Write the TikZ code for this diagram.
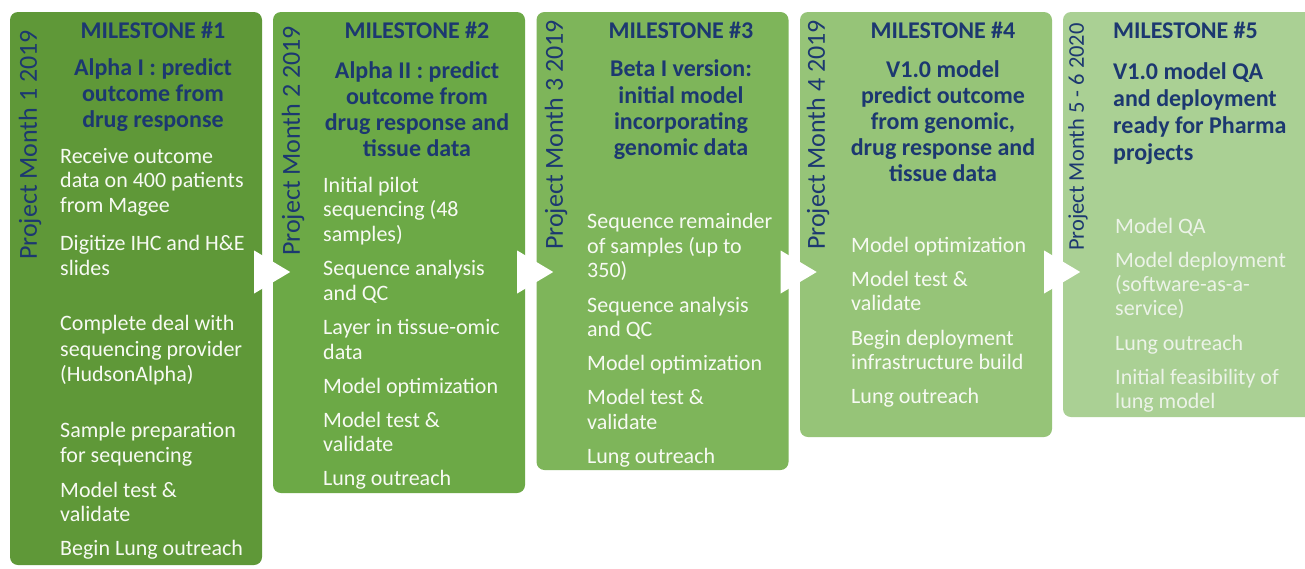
\documentclass[tikz,border=0pt]{standalone}
\usepackage{fontspec}
\setmainfont{Carlito}
\definecolor{g1}{RGB}{95,152,56}
\definecolor{g2}{RGB}{108,169,70}
\definecolor{g3}{RGB}{126,181,90}
\definecolor{g4}{RGB}{150,196,120}
\definecolor{g5}{RGB}{170,208,148}
\definecolor{navy}{RGB}{28,56,112}
\definecolor{bodyw}{RGB}{247,250,243}
\definecolor{bodyw5}{RGB}{236,243,232}
\begin{document}
\begin{tikzpicture}[x=1pt,y=-1pt,
 box/.style={rounded corners=8pt, minimum width=252pt, inner sep=0pt, draw=none},
 lab/.style={rotate=90, text=navy, font=\fontsize{26}{30}\selectfont, inner sep=0pt},
 hd/.style={text=navy, font=\fontsize{24}{26}\selectfont\bfseries, anchor=base, inner sep=0pt},
 hdl/.style={hd, anchor=base west},
 bd/.style={text=bodyw, font=\fontsize{22}{24}\selectfont, anchor=base west, inner sep=0pt},
 tri/.style={fill=white, draw=none}]
\useasboundingbox (0,0) rectangle (1305,568);
\clip (0,0) rectangle (1305,568);
\fill[white] (0,0) rectangle (1305,568);

% boxes
\node[box, fill=g1, minimum height=553pt] (m1) at (136,288.5) {};
\node[box, fill=g2, minimum height=481pt] (m2) at (399,252.5) {};
\node[box, fill=g3, minimum height=458pt] (m3) at (662.5,241) {};
\node[box, fill=g4, minimum height=425pt] (m4) at (926,224.5) {};
\node[box, fill=g5, minimum height=405pt] (m5) at (1189,214.5) {};

% arrow triangles
\foreach \a in {1,2,3,4}{
  \coordinate (t\a) at (m\a.east |- 0,272);
  \fill[tri] ([xshift=-8pt,yshift=21.5pt]t\a) -- ([xshift=-8pt,yshift=-21.5pt]t\a) -- ([xshift=28pt]t\a) -- cycle;
}

% vertical labels
\node[lab] (p1) at (30,145) {Project Month 1 2019};
\node[lab] (p2) at (293,141) {Project Month 2 2019};
\node[lab] (p3) at (556,135) {Project Month 3 2019};
\node[lab] (p4) at (818,135) {Project Month 4 2019};
\node[lab, font=\fontsize{22.5}{26}\selectfont] (p5) at (1078,137) {Project Month 5 - 6 2020};

% headers
\node[hd] (h1) at (153,38) {MILESTONE \#1};
\node[hd] (h2) at (417,38) {MILESTONE \#2};
\node[hd] (h3) at (681,38) {MILESTONE \#3};
\node[hd] (h4) at (943,38) {MILESTONE \#4};
\node[hdl] (h5) at (1113,38) {MILESTONE \#5};

% titles
\foreach \ty/\tx [count=\i] in {75/Alpha I : predict, 101/outcome from, 127/drug response}
  \node[hd, name=a1\i] at (153,\ty) {\tx};
\foreach \ty/\tx [count=\i] in {78/Alpha II : predict, 104/outcome from, 130/drug response and, 156/tissue data}
  \node[hd, name=a2\i] at (417,\ty) {\tx};
\foreach \ty/\tx [count=\i] in {76/Beta I version:, 103/initial model, 129/incorporating, 155/genomic data}
  \node[hd, name=a3\i] at (681,\ty) {\tx};
\foreach \ty/\tx [count=\i] in {77/V1.0 model, 103/predict outcome, 129/{from genomic,}, 155/drug response and, 181/tissue data}
  \node[hd, name=a4\i] at (943,\ty) {\tx};
\foreach \ty/\tx [count=\i] in {79/V1.0 model QA, 106/and deployment, 133/ready for Pharma, 160/projects}
  \node[hdl, name=a5\i] at (1113,\ty) {\tx};

% body
\foreach \ty/\tx [count=\i] in {163/Receive outcome, 187/data on 400 patients, 212/from Magee,
  250/Digitize IHC and H\&E, 275/slides, 330/Complete deal with, 356/sequencing provider,
  381/(HudsonAlpha), 437/Sample preparation, 462/for sequencing, 497/Model test \&,
  521/validate, 555/Begin Lung outreach}
  \node[bd, name=b1\i] at (60,\ty) {\tx};
\foreach \ty/\tx [count=\i] in {192/Initial pilot, 216/sequencing (48, 241/samples),
  275/Sequence analysis, 300/and QC, 334/Layer in tissue-omic, 359/data,
  393/Model optimization, 427/Model test \&, 451/validate, 485/Lung outreach}
  \node[bd, name=b2\i] at (323,\ty) {\tx};
\foreach \ty/\tx [count=\i] in {228/Sequence remainder, 253/of samples (up to, 277/350),
  312/Sequence analysis, 336/and QC, 370/Model optimization, 404/Model test \&,
  429/validate, 463/Lung outreach}
  \node[bd, name=b3\i] at (587,\ty) {\tx};
\foreach \ty/\tx [count=\i] in {252/Model optimization, 286/Model test \&, 310/validate,
  345/Begin deployment, 369/infrastructure build, 403/Lung outreach}
  \node[bd, name=b4\i] at (851,\ty) {\tx};
\foreach \ty/\tx [count=\i] in {233/Model QA, 267/Model deployment, 291/(software-as-a-,
  315/service), 350/Lung outreach, 384/Initial feasibility of, 408/lung model}
  \node[bd, text=bodyw5, name=b5\i] at (1115,\ty) {\tx};
\end{tikzpicture}
\end{document}
